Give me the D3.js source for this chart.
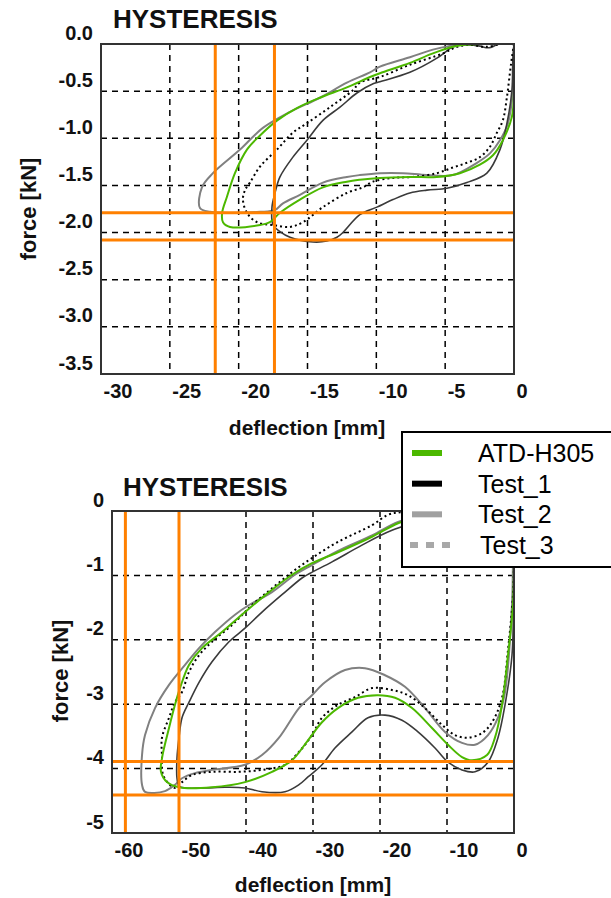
<!DOCTYPE html>
<html>
<head>
<meta charset="utf-8">
<script src="https://d3js.org/d3.v7.min.js"></script>
<style>
  body { margin: 0; background: #fff; }
  text { font-family: "Liberation Sans", Arial, sans-serif; }
</style>
</head>
<body>
<div id="chart"></div>
<script>
// ---- data: [deflection mm, force kN] ----
var seriesNames = ["ATD-H305", "Test_1", "Test_2", "Test_3"];

// upper panel
var topXTicks = [-30, -25, -20, -15, -10, -5, 0];
var topYTicks = [0, -0.5, -1.0, -1.5, -2.0, -2.5, -3.0, -3.5];
var topOrangeX = [-21.7, -17.4];
var topOrangeY = [-1.79, -2.08];

var topATD = [[0,0],[0,-0.5],[-0.15,-0.77],[-0.81,-1.02],[-1.53,-1.18],[-2.48,-1.28],[-3.93,-1.37],[-5.6,-1.41],
  [-7.56,-1.41],[-9.74,-1.42],[-11.2,-1.44],[-12.14,-1.46],[-13.88,-1.52],[-15.55,-1.65],[-17.0,-1.79],[-17.73,-1.89],
  [-18.45,-1.92],[-20.63,-1.94],[-21.14,-1.89],[-21.2,-1.79],[-20.85,-1.62],[-20.27,-1.37],[-19.4,-1.12],[-18.45,-0.97],
  [-17.2,-0.81],[-15.77,-0.68],[-14.1,-0.57],[-12.14,-0.46],[-10.46,-0.35],[-9.74,-0.31],[-7.56,-0.2],[-5.89,-0.1],
  [-4.44,-0.03],[-3.71,-0.01],[-2.5,0]];
var topTest1 = [[0,0],[-0.08,-0.14],[-0.15,-0.49],[-0.51,-0.84],[-1.02,-1.12],[-1.97,-1.37],[-3.42,-1.47],[-4.87,-1.53],
  [-6.33,-1.55],[-7.56,-1.58],[-8.79,-1.65],[-9.96,-1.73],[-11.2,-1.81],[-12.43,-2.0],[-12.86,-2.05],[-13.59,-2.09],
  [-14.6,-2.1],[-16.27,-2.05],[-17.0,-1.99],[-17.5,-1.92],[-17.58,-1.73],[-17.36,-1.58],[-17.0,-1.41],[-16.06,-1.2],
  [-15.04,-1.02],[-13.88,-0.81],[-12.64,-0.67],[-11.41,-0.52],[-10.2,-0.42],[-9.74,-0.4],[-7.56,-0.3],[-5.6,-0.15],
  [-4.44,-0.03],[-3.93,-0.01],[-2.6,-0.02],[-1.8,-0.04],[-1.2,0]];
var topTest2 = [[0,-0.03],[-0.08,-0.49],[-0.44,-0.84],[-1.02,-1.02],[-1.75,-1.16],[-2.69,-1.26],[-4.44,-1.39],[-6.33,-1.39],
  [-8.07,-1.37],[-9.74,-1.37],[-11.2,-1.39],[-12.14,-1.41],[-13.88,-1.47],[-15.55,-1.6],[-16.78,-1.69],[-17.36,-1.76],
  [-18.45,-1.78],[-22.08,-1.78],[-22.81,-1.74],[-22.67,-1.52],[-21.87,-1.37],[-19.9,-1.12],[-18.24,-0.89],[-16.27,-0.72],
  [-14.1,-0.57],[-12.14,-0.41],[-10.46,-0.3],[-9.74,-0.24],[-7.56,-0.14],[-5.89,-0.06],[-4.65,-0.02],[-3.57,0]];
var topTest3 = [[0,0],[-0.15,-0.14],[-0.3,-0.31],[-0.51,-0.56],[-0.81,-0.81],[-1.24,-0.94],[-1.75,-1.09],[-2.48,-1.2],
  [-3.42,-1.26],[-4.44,-1.31],[-5.6,-1.37],[-7.34,-1.41],[-8.79,-1.42],[-10.25,-1.46],[-10.97,-1.52],[-12.14,-1.58],
  [-13.88,-1.73],[-15.33,-1.89],[-16.27,-1.94],[-17.5,-1.92],[-18.67,-1.89],[-19.4,-1.79],[-19.69,-1.65],[-19.54,-1.55],
  [-19.18,-1.47],[-18.45,-1.3],[-17.22,-1.12],[-16.06,-0.94],[-15.04,-0.84],[-13.37,-0.67],[-11.7,-0.49],[-11.2,-0.41],
  [-9.74,-0.35],[-7.56,-0.22],[-5.16,-0.1],[-4.15,-0.03],[-3.2,-0.01],[-2.0,-0.03],[-1.0,0]];

// lower panel
var botXTicks = [-60, -50, -40, -30, -20, -10, 0];
var botYTicks = [0, -1, -2, -3, -4, -5];
var botOrangeX = [-58.0, -50.0];
var botOrangeY = [-3.89, -4.41];

var botATD = [[0,0],[0,-0.76],[-0.15,-1.46],[-0.9,-2.24],[-1.79,-3.01],[-2.84,-3.52],[-4.03,-3.79],[-6.27,-3.87],
  [-7.76,-3.82],[-9.85,-3.63],[-12.24,-3.37],[-15.22,-3.06],[-17.76,-2.9],[-20.3,-2.86],[-23.28,-2.9],[-26.27,-3.06],
  [-28.66,-3.28],[-30.75,-3.56],[-33.13,-3.87],[-36.12,-4.05],[-40.15,-4.21],[-45.07,-4.29],[-50.0,-4.29],[-51.79,-4.21],
  [-52.69,-4.05],[-52.54,-3.84],[-51.49,-3.37],[-50.6,-3.01],[-49.85,-2.75],[-48.51,-2.39],[-46.57,-2.13],[-43.58,-1.88],
  [-40.15,-1.57],[-36.57,-1.26],[-33.13,-0.99],[-30.15,-0.81],[-26.27,-0.64],[-21.19,-0.4],[-17.31,-0.19],[-13.5,-0.06],[-9.0,0]];
var botTest1 = [[0,0],[0,-0.76],[-0.05,-1.2],[-0.3,-2.24],[-1.34,-3.01],[-2.39,-3.52],[-3.88,-3.9],[-5.82,-4.05],
  [-7.76,-4.02],[-9.85,-3.9],[-11.79,-3.68],[-14.33,-3.43],[-16.72,-3.25],[-19.25,-3.17],[-21.79,-3.21],[-24.18,-3.43],
  [-26.72,-3.68],[-28.66,-3.94],[-30.75,-4.13],[-32.09,-4.25],[-34.18,-4.36],[-37.61,-4.36],[-40.15,-4.3],[-43.13,-4.29],
  [-46.12,-4.3],[-49.1,-4.3],[-50.0,-4.27],[-50.3,-4.15],[-50.3,-3.84],[-50.0,-3.52],[-49.55,-3.21],[-48.51,-2.97],
  [-47.01,-2.66],[-45.07,-2.34],[-42.54,-2.03],[-40.15,-1.82],[-37.61,-1.57],[-34.63,-1.3],[-31.64,-1.04],[-30.5,-0.97],
  [-27.16,-0.79],[-22.69,-0.53],[-18.21,-0.3],[-12.0,-0.1],[-8.0,0]];
var botTest2 = [[0,0],[-0.15,-0.76],[-0.3,-1.46],[-1.34,-2.81],[-2.39,-3.21],[-3.88,-3.48],[-5.82,-3.63],[-7.76,-3.6],
  [-10.3,-3.43],[-13.28,-3.06],[-16.27,-2.73],[-19.25,-2.55],[-22.24,-2.44],[-25.22,-2.47],[-28.21,-2.66],[-30.15,-2.86],
  [-32.09,-3.06],[-35.07,-3.52],[-37.61,-3.79],[-40.15,-3.94],[-45.07,-4.02],[-47.61,-4.07],[-49.55,-4.15],[-50.6,-4.25],
  [-52.09,-4.35],[-55.07,-4.36],[-55.52,-4.25],[-55.52,-3.79],[-55.07,-3.48],[-53.58,-3.06],[-51.49,-2.7],[-49.1,-2.39],
  [-47.01,-2.13],[-44.63,-1.88],[-41.64,-1.61],[-39.55,-1.46],[-36.12,-1.26],[-32.69,-0.99],[-30.15,-0.84],[-26.27,-0.62],
  [-21.19,-0.38],[-17.31,-0.17],[-13.0,-0.05],[-9.0,0]];
var botTest3 = [[0,0],[0,-0.76],[-0.15,-1.3],[-0.9,-2.16],[-1.79,-2.9],[-3.28,-3.28],[-4.78,-3.45],[-6.87,-3.52],
  [-8.81,-3.48],[-10.75,-3.32],[-13.28,-3.06],[-15.82,-2.86],[-18.21,-2.78],[-21.19,-2.75],[-23.73,-2.89],[-26.27,-3.01],
  [-28.66,-3.21],[-30.15,-3.48],[-32.09,-3.74],[-34.18,-3.94],[-37.61,-4.02],[-41.04,-4.05],[-45.07,-4.05],[-48.06,-4.1],
  [-49.55,-4.21],[-50.6,-4.3],[-52.3,-4.12],[-52.54,-3.79],[-52.54,-3.52],[-51.49,-3.21],[-50.6,-2.97],[-49.55,-2.81],
  [-48.51,-2.5],[-47.01,-2.24],[-45.07,-2.03],[-42.09,-1.77],[-39.1,-1.46],[-36.12,-1.2],[-33.13,-0.95],[-30.15,-0.73],
  [-26.27,-0.48],[-21.19,-0.22],[-18.81,-0.06],[-17.0,-0.02],[-10.0,0]];

var svg = d3.select("#chart").append("svg").attr("width", 611).attr("height", 898);

var styles = {
  "ATD-H305": {stroke: "#4cb800", width: 2, dash: null},
  "Test_1": {stroke: "#3a3a3a", width: 1.6, dash: null},
  "Test_2": {stroke: "#808080", width: 2, dash: null},
  "Test_3": {stroke: "#000", width: 2, dash: "2,3"}
};

function drawPanel(p, id) {
  var x = d3.scaleLinear().domain(p.xDomain).range(p.xRange);
  var y = d3.scaleLinear().domain(p.yDomain).range(p.yRange);
  var left = p.xRange[0], right = p.xRange[1];
  var top = d3.min(p.yRange), bottom = d3.max(p.yRange);
  var g = svg.append("g");

  svg.append("clipPath").attr("id", "clip" + id).append("rect")
    .attr("x", left).attr("y", top).attr("width", right - left).attr("height", bottom - top);

  // dashed grid on inner ticks
  g.selectAll(".vg").data(p.xTicks.slice(1, -1)).enter().append("line")
    .attr("x1", d => x(d)).attr("x2", d => x(d)).attr("y1", top).attr("y2", bottom)
    .attr("stroke", "#000").attr("stroke-width", 1.5).attr("stroke-dasharray", "6,5");
  g.selectAll(".hg").data(p.yTicks.slice(1, -1)).enter().append("line")
    .attr("y1", d => y(d)).attr("y2", d => y(d)).attr("x1", left).attr("x2", right)
    .attr("stroke", "#000").attr("stroke-width", 1.5).attr("stroke-dasharray", "6,5");

  var line = d3.line().x(d => x(d[0])).y(d => y(d[1])).curve(d3.curveCatmullRom);
  var curves = g.append("g").attr("clip-path", "url(#clip" + id + ")");
  ["Test_2", "Test_1", "Test_3", "ATD-H305"].forEach(function(name) {
    var s = styles[name];
    curves.append("path").datum(p.series[name])
      .attr("d", line).attr("fill", "none")
      .attr("stroke", s.stroke).attr("stroke-width", s.width)
      .attr("stroke-dasharray", s.dash);
  });

  // orange limit lines
  g.selectAll(".ox").data(p.orangeX).enter().append("line")
    .attr("x1", d => x(d)).attr("x2", d => x(d)).attr("y1", top).attr("y2", bottom)
    .attr("stroke", "#ff8000").attr("stroke-width", 3);
  g.selectAll(".oy").data(p.orangeY).enter().append("line")
    .attr("y1", d => y(d)).attr("y2", d => y(d)).attr("x1", left).attr("x2", right)
    .attr("stroke", "#ff8000").attr("stroke-width", 3);

  // frame
  g.append("rect").attr("x", left).attr("y", top)
    .attr("width", right - left).attr("height", bottom - top)
    .attr("fill", "none").attr("stroke", "#333").attr("stroke-width", 2);

  // tick labels (shifted like the original)
  var xa = g.append("g").attr("transform", "translate(0," + bottom + ")")
    .call(d3.axisBottom(x).tickValues(p.xTicks).tickSize(0).tickFormat(d => String(d)));
  xa.select(".domain").remove();
  xa.selectAll("text").attr("text-anchor", "start").attr("dx", 2).attr("y", 0).attr("dy", 24)
    .style("font-size", "20px").style("font-weight", "bold").attr("fill", "#111")
    .style("font-family", "'Liberation Sans', Arial, sans-serif");

  var ya = g.append("g").attr("transform", "translate(" + left + ",0)")
    .call(d3.axisLeft(y).tickValues(p.yTicks).tickSize(0).tickPadding(8).tickFormat(p.yFmt));
  ya.select(".domain").remove();
  ya.selectAll("text").attr("dy", -5)
    .style("font-size", "20px").style("font-weight", "bold").attr("fill", "#111")
    .style("font-family", "'Liberation Sans', Arial, sans-serif");

  // titles
  svg.append("text").attr("x", p.titleX).attr("y", p.titleY).text("HYSTERESIS")
    .style("font-size", "26px").style("font-weight", "bold").attr("fill", "#111");
  svg.append("text").attr("x", p.xlabX).attr("y", p.xlabY).attr("text-anchor", "middle")
    .text("deflection [mm]").style("font-size", "21px").style("font-weight", "bold").attr("fill", "#111");
  svg.append("text").attr("transform", "translate(" + p.ylabX + "," + p.ylabY + ") rotate(-90)")
    .attr("text-anchor", "middle").text("force [kN]")
    .style("font-size", "22px").style("font-weight", "bold").attr("fill", "#111");
}

drawPanel({
  xDomain: [-30, 0], xRange: [101, 514], yDomain: [0, -3.5], yRange: [44, 374],
  xTicks: topXTicks, yTicks: topYTicks, yFmt: d => d.toFixed(1),
  orangeX: topOrangeX, orangeY: topOrangeY,
  series: {"ATD-H305": topATD, "Test_1": topTest1, "Test_2": topTest2, "Test_3": topTest3},
  titleX: 113, titleY: 28, xlabX: 307, xlabY: 435, ylabX: 36, ylabY: 209
}, "Top");

drawPanel({
  xDomain: [-60, 0], xRange: [112, 514], yDomain: [0, -5], yRange: [511, 833],
  xTicks: botXTicks, yTicks: botYTicks, yFmt: d => String(d),
  orangeX: botOrangeX, orangeY: botOrangeY,
  series: {"ATD-H305": botATD, "Test_1": botTest1, "Test_2": botTest2, "Test_3": botTest3},
  titleX: 123, titleY: 496, xlabX: 313, xlabY: 892, ylabX: 68, ylabY: 671
}, "Bot");

// legend
var legendStyles = [
  {stroke: "#4cb800", dash: null, x1: 412, x2: 442},
  {stroke: "#000", dash: null, x1: 412, x2: 442},
  {stroke: "#a0a0a0", dash: null, x1: 412, x2: 442},
  {stroke: "#a8a8a8", dash: "8,8", x1: 410, x2: 450}
];
var leg = svg.append("g");
leg.append("rect").attr("x", 402).attr("y", 432).attr("width", 220).attr("height", 135)
  .attr("fill", "#fff").attr("stroke", "#000").attr("stroke-width", 2);
var rowY = d3.scalePoint().domain(seriesNames).range([453, 545]);
seriesNames.forEach(function(name, i) {
  var ls = legendStyles[i];
  leg.append("line").attr("x1", ls.x1).attr("x2", ls.x2).attr("y1", rowY(name)).attr("y2", rowY(name))
    .attr("stroke", ls.stroke).attr("stroke-width", 6)
    .attr("stroke-dasharray", ls.dash);
  leg.append("text").attr("x", i === 3 ? 480 : 478).attr("y", rowY(name) + 9).text(name)
    .style("font-size", "25px").attr("fill", "#000");
});
</script>
</body>
</html>
